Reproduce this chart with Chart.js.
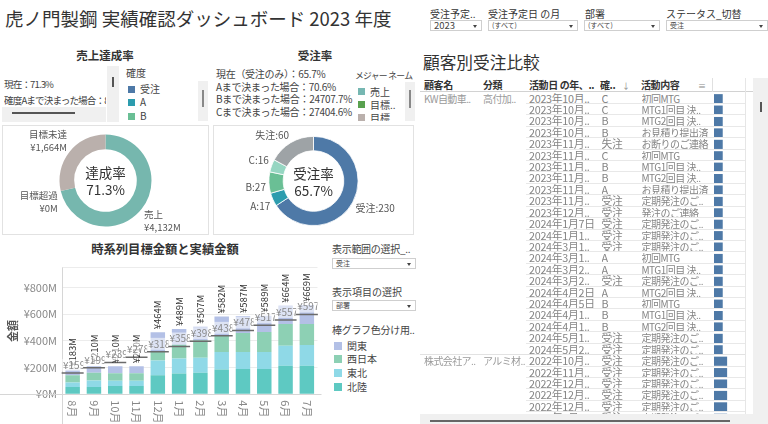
<!DOCTYPE html>
<html lang="ja">
<head>
<meta charset="utf-8">
<script src="https://cdn.jsdelivr.net/npm/chart.js@4.4.0/dist/chart.umd.min.js"></script>
<style>
  body { margin: 0; width: 768px; height: 424px; overflow: hidden; background: #fff; position: relative;
         font-family: "Noto Sans CJK JP", "Noto Sans", sans-serif; color: #333; }
  .a { position: absolute; white-space: nowrap; }
  .t10 { font-size: 10px; line-height: 14px; }
  .dd { position: absolute; height: 9px; border: 1px solid #cfcfcf; background: #fff; font-size: 7px; line-height: 9px;
        padding-left: 3px; color: #444; box-sizing: content-box; }
  .dd i { position: absolute; right: 4px; top: 3.5px; width: 0; height: 0; border-left: 2.5px solid transparent;
          border-right: 2.5px solid transparent; border-top: 3px solid #444; }
  .sq { position: absolute; width: 7px; height: 7px; }
  .track { position: absolute; background: #f0f0f0; }
  .thumb { position: absolute; background: #777; }
  .box { position: absolute; border: 1px solid #e2e2e2; box-sizing: border-box; }
  .hdr { position: absolute; font-size: 10px; font-weight: bold; line-height: 14px; top: 78px; color: #333;
         white-space: nowrap; overflow: hidden; letter-spacing: -0.4px; }
  .cell { position: absolute; font-size: 10.8px; line-height: 11.4px; color: #858585; white-space: nowrap;
          overflow: hidden; letter-spacing: -0.3px; }
</style>
</head>
<body>

<div class="a" style="left:5px;top:5px;font-size:18.5px;line-height:26px;">虎ノ門製鋼 実績確認ダッシュボード 2023 年度</div>

<!-- filters -->
<div class="a t10" style="left:430px;top:7px;">受注予定..</div>
<div class="a t10" style="left:488px;top:7px;">受注予定日 の月</div>
<div class="a t10" style="left:585px;top:7px;">部署</div>
<div class="a t10" style="left:666px;top:7px;">ステータス_切替</div>
<div class="dd" style="left:430px;top:20px;width:47px;font-size:9.5px;">2023<i></i></div>
<div class="dd" style="left:488px;top:20px;width:85px;">(すべて)<i></i></div>
<div class="dd" style="left:584px;top:20px;width:71px;">(すべて)<i></i></div>
<div class="dd" style="left:666px;top:20px;width:97px;">受注<i></i></div>

<!-- 売上達成率 -->
<div class="a" style="left:0;top:47px;width:210px;text-align:center;font-size:11.5px;font-weight:bold;line-height:16px;">売上達成率</div>
<div class="a" style="left:4px;top:77px;width:102px;overflow:hidden;font-size:9.6px;line-height:15.5px;color:#444;letter-spacing:-0.9px;">現在：71.3%<br>確度Aまで決まった場合：81.2%</div>
<div class="track" style="left:2px;top:107px;width:104px;height:15px;"></div>
<div class="thumb" style="left:12px;top:112px;width:63px;height:2px;background:#555;"></div>
<div class="track" style="left:107px;top:66px;width:12px;height:56px;"></div>
<div class="thumb" style="left:112px;top:77px;width:2px;height:10px;background:#555;"></div>
<div class="a t10" style="left:126px;top:66px;color:#444;">確度</div>
<div class="sq" style="left:128px;top:86px;background:#4e79a7;"></div>
<div class="a t10" style="left:140px;top:82px;color:#444;">受注</div>
<div class="sq" style="left:128px;top:99px;background:#2c9cae;"></div>
<div class="a t10" style="left:140px;top:95px;color:#444;">A</div>
<div class="sq" style="left:128px;top:113px;background:#6abf95;"></div>
<div class="a t10" style="left:140px;top:109px;color:#444;">B</div>
<div class="track" style="left:198px;top:81px;width:10px;height:40px;"></div>
<div class="thumb" style="left:202px;top:90px;width:2px;height:17px;background:#888;"></div>

<!-- 受注率 -->
<div class="a" style="left:210px;top:47px;width:210px;text-align:center;font-size:11.5px;font-weight:bold;line-height:16px;">受注率</div>
<div class="a" style="left:216px;top:68px;font-size:10px;line-height:12.6px;color:#444;letter-spacing:-0.3px;">現在（受注のみ）：65.7%<br>Aまで決まった場合：70.6%<br>Bまで決まった場合：24707.7%<br>Cまで決まった場合：27404.6%</div>
<div class="a" style="left:355px;top:69px;font-size:8.8px;line-height:14px;color:#444;letter-spacing:-0.7px;">メジャー ネーム</div>
<div class="a" style="left:356px;top:84px;width:48px;height:37px;overflow:hidden;">
  <div class="sq" style="left:2px;top:4px;background:#76b7b2;"></div>
  <div class="a t10" style="left:14px;top:0.5px;color:#444;">売上</div>
  <div class="sq" style="left:2px;top:17px;background:#59a14f;"></div>
  <div class="a t10" style="left:14px;top:14px;color:#444;">目標..</div>
  <div class="sq" style="left:2px;top:30px;background:#bab0ac;"></div>
  <div class="a t10" style="left:14px;top:27px;color:#444;">目標</div>
</div>
<div class="track" style="left:405px;top:82px;width:10px;height:39px;"></div>
<div class="thumb" style="left:409px;top:90px;width:2px;height:18px;background:#888;"></div>

<div class="box" style="left:2px;top:125px;width:207px;height:110px;"></div>
<div class="box" style="left:213px;top:125px;width:201px;height:110px;"></div>
<canvas id="salesDonut" class="a" style="left:3px;top:126px;" width="205" height="108"></canvas>
<canvas id="orderDonut" class="a" style="left:214px;top:126px;" width="199" height="108"></canvas>

<!-- 時系列 -->
<div class="a" style="left:0;top:241px;width:330px;text-align:center;font-size:12.3px;font-weight:bold;line-height:16px;">時系列目標金額と実績金額</div>
<canvas id="barChart" class="a" style="left:0;top:255px;" width="330" height="169"></canvas>
<div class="a" style="left:332px;top:242px;width:84px;overflow:hidden;font-size:10px;line-height:14px;color:#444;letter-spacing:-0.3px;">表示範囲の選択_..</div>
<div class="dd" style="left:332px;top:258px;width:79px;">受注<i></i></div>
<div class="a t10" style="left:332px;top:285px;color:#444;">表示項目の選択</div>
<div class="dd" style="left:332px;top:300px;width:79px;">部署<i></i></div>
<div class="a t10" style="left:332px;top:323px;color:#444;letter-spacing:-0.3px;">棒グラフ色分け用..</div>
<div class="sq" style="left:334px;top:342px;width:8px;height:8px;background:#b3c0e6;"></div>
<div class="a t10" style="left:347px;top:339px;color:#444;">関東</div>
<div class="sq" style="left:334px;top:355px;width:8px;height:8px;background:#8dd0b4;"></div>
<div class="a t10" style="left:347px;top:352px;color:#444;">西日本</div>
<div class="sq" style="left:334px;top:369px;width:8px;height:8px;background:#8fd9e7;"></div>
<div class="a t10" style="left:347px;top:366px;color:#444;">東北</div>
<div class="sq" style="left:334px;top:383px;width:8px;height:8px;background:#5ec9c2;"></div>
<div class="a t10" style="left:347px;top:380px;color:#444;">北陸</div>

<!-- 顧客別受注比較 -->
<div class="a" style="left:423px;top:50px;font-size:16.7px;line-height:24px;">顧客別受注比較</div>
<div class="hdr" style="left:424px;width:55px;">顧客名</div>
<div class="hdr" style="left:483px;width:42px;">分類</div>
<div class="hdr" style="left:529px;width:68px;">活動日 の年、..</div>
<div class="hdr" style="left:600px;width:20px;">確..</div>
<div class="a" style="left:622px;top:80px;font-size:8px;color:#888;">↓</div>
<div class="hdr" style="left:641px;width:50px;">活動内容</div>
<div class="a" style="left:698px;top:80px;font-size:8px;color:#888;">≡</div>
<div class="a" style="left:420px;top:91px;width:333px;height:1px;background:#d2d2d2;"></div>
<div class="a" style="left:712px;top:78px;width:1px;height:14px;background:#e0e0e0;"></div>
<div class="a" style="left:745px;top:78px;width:1px;height:336px;background:#e6e6e6;"></div>
<div id="tbl" class="a" style="left:420px;top:92px;width:333px;height:322px;overflow:hidden;">
  <canvas id="rowBars" class="a" style="left:294px;top:0.6px;" width="32" height="331"></canvas>
</div>
<div class="track" style="left:753px;top:78px;width:15px;height:336px;"></div>
<div class="thumb" style="left:760px;top:102px;width:2px;height:10px;background:#555;"></div>
<div class="track" style="left:420px;top:414px;width:348px;height:10px;"></div>
<div class="thumb" style="left:430px;top:420px;width:300px;height:2px;background:#666;"></div>

<script>
const salesLabels = ["売上", "目標超過", "目標未達"]
const salesValues = [4132, 0, 1664]
const salesColors = ["#76b7ae", "#59a14f", "#bab0ac"]

const orderLabels = ["受注", "A", "B", "C", "失注"]
const orderCounts = [230, 17, 27, 16, 60]
const orderColors = ["#4e79a7", "#2c9cae", "#6abf95", "#96d6c2", "#9ea3a6"]

const months = ["8月", "9月", "10月", "11月", "12月", "1月", "2月", "3月", "4月", "5月", "6月", "7月"]
const hokuriku = [55, 55, 62, 62, 143, 155, 162, 186, 190, 190, 214, 214]
const tohoku = [33, 48, 40, 40, 110, 114, 112, 131, 126, 126, 150, 155]
const nishinihon = [55, 58, 55, 55, 69, 102, 131, 126, 143, 150, 162, 157]
const kanto = [40, 49, 53, 53, 142, 118, 102, 139, 128, 123, 138, 143]
const targets = [159, 199, 239, 278, 318, 358, 398, 438, 478, 517, 557, 597]
const yTicks = [0, 200, 400, 600, 800]

const custNames = ["KW自動車..", "株式会社ア.."]
const custCats = ["高付加..", "アルミ材.."]
const rowCust = [0,0,0,0,0,0,0,0,0,0,0,0,0,0,0,0,0,0,0,0,0,0,0,1,1,1,1,1,1]
const rowDates = ["2023年10月..", "2023年10月..", "2023年10月..", "2023年10月..", "2023年11月..", "2023年11月..",
    "2023年11月..", "2023年11月..", "2023年11月..", "2023年11月..", "2023年12月..", "2024年1月7日",
    "2024年1月1..", "2024年3月1..", "2024年3月1..", "2024年3月2..", "2024年3月2..", "2024年4月2日",
    "2024年4月5日", "2024年4月1..", "2024年4月1..", "2024年5月1..", "2024年5月2..", "2022年10月..",
    "2022年11月..", "2022年12月..", "2022年12月..", "2022年12月..", "2023年1月.."]
const rowConf = ["C", "C", "B", "B", "失注", "C", "B", "B", "A", "受注", "受注", "受注", "受注", "受注", "A", "A",
    "受注", "A", "B", "B", "B", "受注", "受注", "受注", "受注", "受注", "受注", "受注", "受注"]
const rowActs = ["初回MTG", "MTG1回目 決..", "MTG2回目 決..", "お見積り提出済", "お断りのご連絡", "初回MTG",
    "MTG1回目 決..", "MTG2回目 決..", "お見積り提出済", "定期発注のご..", "発注のご連絡", "定期発注のご..",
    "定期発注のご..", "定期発注のご..", "初回MTG", "MTG1回目 決..", "定期発注のご..", "MTG2回目 決..",
    "初回MTG", "MTG1回目 決..", "MTG2回目 決..", "定期発注のご..", "定期発注のご..", "定期発注のご..",
    "定期発注のご..", "定期発注のご..", "定期発注のご..", "定期発注のご..", "定期発注のご.."]
const rowBarValues = [1.05, 1.05, 1.05, 1.05, 1.05, 1.05, 1.05, 1.05, 1.05, 1.05, 1.05, 1.05, 1.05, 1.05, 1.05,
    1.05, 1.05, 1.05, 1.05, 1.05, 1.05, 1.05, 1.05, 1.6, 1.6, 1.6, 1.6, 1.6, 1.6]

const FONT = '"Noto Sans CJK JP", "Noto Sans", sans-serif'
Chart.defaults.font.family = FONT
Chart.defaults.animation = false

const sum = a => a.reduce((s, v) => s + v, 0)

// labels round the ring plus the two lines in the hole
const donutText = {
    id: "donutText",
    afterDatasetsDraw(chart, args, opts) {
        const ctx = chart.ctx
        const arcs = chart.getDatasetMeta(0).data
        ctx.save()
        ctx.fillStyle = "#555"
        ctx.font = opts.size + "px " + FONT
        ctx.textBaseline = "middle"
        arcs.forEach((arc, i) => {
            const mid = (arc.startAngle + arc.endAngle) / 2
            const r = arc.outerRadius + 3
            const px = arc.x + Math.cos(mid) * r
            const py = arc.y + Math.sin(mid) * r
            const lines = opts.labels[i]
            const h = lines.length * opts.lineHeight
            const top = Math.sin(mid) > 0 ? py - h * 0.12 : py - h * 0.85
            ctx.textAlign = Math.cos(mid) < 0 ? "right" : "left"
            lines.forEach((t, j) => ctx.fillText(t, px, top + (j + 0.5) * opts.lineHeight))
        })
        const c = arcs[0]
        ctx.fillStyle = "#333"
        ctx.font = "13.5px " + FONT
        ctx.textAlign = "center"
        ctx.fillText(opts.center[0], c.x, c.y - 7.5)
        ctx.fillText(opts.center[1], c.x, c.y + 9.5)
        ctx.restore()
    }
}

const salesRate = (salesValues[0] / (salesValues[0] + salesValues[2]) * 100).toFixed(1)
new Chart(document.getElementById("salesDonut").getContext("2d"), {
    type: "doughnut",
    data: {
        labels: salesLabels,
        datasets: [{ data: salesValues, backgroundColor: salesColors, borderWidth: 0 }]
    },
    options: {
        responsive: false,
        cutout: "68%",
        layout: { padding: { top: 8.5, bottom: 7.5 } },
        plugins: {
            legend: { display: false },
            tooltip: { enabled: false },
            donutText: {
                center: ["達成率", salesRate + "%"],
                labels: salesLabels.map((l, i) => [l, "¥" + salesValues[i].toLocaleString("en-US") + "M"]),
                size: 9.5,
                lineHeight: 13
            }
        }
    },
    plugins: [donutText]
})

const orderRate = (orderCounts[0] / sum(orderCounts) * 100).toFixed(1)
new Chart(document.getElementById("orderDonut").getContext("2d"), {
    type: "doughnut",
    data: {
        labels: orderLabels,
        datasets: [{ data: orderCounts, backgroundColor: orderColors, borderWidth: 0.8, borderColor: "#fff" }]
    },
    options: {
        responsive: false,
        cutout: "68%",
        layout: { padding: { top: 10, bottom: 8 } },
        plugins: {
            legend: { display: false },
            tooltip: { enabled: false },
            donutText: {
                center: ["受注率", orderRate + "%"],
                labels: orderLabels.map((l, i) => [l + ":" + orderCounts[i]]),
                size: 10,
                lineHeight: 13
            }
        }
    },
    plugins: [donutText]
})

// axis lines, month labels, totals and target labels
const barExtras = {
    id: "barExtras",
    beforeDatasetsDraw(chart) {
        const { ctx, chartArea: a, scales: { y } } = chart
        const y0 = Math.round(y.getPixelForValue(0)) + 0.5
        ctx.save()
        ctx.strokeStyle = "#d6d6d6"
        ctx.lineWidth = 1
        ctx.beginPath()
        ctx.moveTo(0, y0)
        ctx.lineTo(a.right + 4, y0)
        ctx.moveTo(Math.round(a.left) + 0.5, a.top)
        ctx.lineTo(Math.round(a.left) + 0.5, chart.height)
        ctx.stroke()
        ctx.restore()
    },
    afterDatasetsDraw(chart) {
        const { ctx, chartArea: a, scales: { x, y } } = chart
        const w = x.getPixelForValue(1) - x.getPixelForValue(0)
        ctx.save()
        ctx.textBaseline = "middle"
        ctx.textAlign = "left"

        ctx.fillStyle = "#888"
        ctx.font = "11px " + FONT
        months.forEach((m, i) => {
            ctx.save()
            ctx.translate(x.getPixelForValue(i), a.bottom + 6)
            ctx.rotate(Math.PI / 2)
            ctx.fillText(m, 0, 0)
            ctx.restore()
        })

        ctx.fillStyle = "#333"
        ctx.font = "9.5px " + FONT
        months.forEach((m, i) => {
            const total = hokuriku[i] + tohoku[i] + nishinihon[i] + kanto[i]
            ctx.save()
            ctx.translate(x.getPixelForValue(i), y.getPixelForValue(total) - 3)
            ctx.rotate(-Math.PI / 2)
            ctx.fillText("¥" + total + "M", 0, 0)
            ctx.restore()
        })

        ctx.font = "10px " + FONT
        targets.forEach((t, i) => {
            const left = x.getPixelForValue(i) - w / 2
            const ty = y.getPixelForValue(t)
            ctx.save()
            ctx.beginPath()
            ctx.rect(left, ty - 15, w, 14)
            ctx.clip()
            ctx.fillStyle = "rgba(255,255,255,0.55)"
            ctx.fillRect(left, ty - 14, w, 12)
            ctx.fillStyle = "#8a8a8a"
            ctx.fillText("¥" + t + "M", left + 1, ty - 8)
            ctx.restore()
        })
        ctx.restore()
    }
}

new Chart(document.getElementById("barChart").getContext("2d"), {
    type: "bar",
    data: {
        labels: months,
        datasets: [
            {
                type: "line", label: "目標", data: targets, showLine: false, stack: "target", order: 0,
                pointStyle: "line", pointRadius: 11, pointHoverRadius: 11,
                pointBorderColor: "#6b6b6b", pointBorderWidth: 1.5
            },
            { label: "北陸", data: hokuriku, backgroundColor: "#5ec9c2", order: 1 },
            { label: "東北", data: tohoku, backgroundColor: "#8fd9e7", order: 1 },
            { label: "西日本", data: nishinihon, backgroundColor: "#8dd0b4", order: 1 },
            { label: "関東", data: kanto, backgroundColor: "#b3c0e6", order: 1 }
        ]
    },
    options: {
        responsive: false,
        layout: { padding: { top: 6.7, right: 4 } },
        datasets: { bar: { categoryPercentage: 1, barPercentage: 0.68 } },
        scales: {
            x: {
                stacked: true,
                grid: { display: false },
                border: { display: false },
                ticks: { display: false },
                afterFit: s => { s.height = 29.7 }
            },
            y: {
                stacked: true,
                min: 0,
                max: 950,
                afterBuildTicks: s => { s.ticks = yTicks.concat([950]).map(v => ({ value: v })) },
                ticks: {
                    padding: 5,
                    color: "#888",
                    font: { size: 11 },
                    callback: v => yTicks.includes(v) ? "¥" + v + "M" : ""
                },
                grid: { color: "#ececec", drawTicks: false },
                border: { display: false },
                title: { display: true, text: "金額", color: "#555", font: { size: 11, weight: "bold" }, padding: { top: 6, bottom: 0 } },
                afterFit: s => { s.width = 62 }
            }
        },
        plugins: {
            legend: { display: false },
            tooltip: { enabled: false }
        }
    },
    plugins: [barExtras]
})

// table text
const ROW_H = 331 / rowDates.length
const tbl = document.getElementById("tbl")
const put = (txt, left, top, width, color, extra) => {
    const d = document.createElement("div")
    d.className = "cell"
    d.style.left = left + "px"
    d.style.top = top + "px"
    d.style.width = width + "px"
    if (color) d.style.color = color
    if (extra) d.style.cssText += extra
    d.textContent = txt
    tbl.appendChild(d)
}
const line = (left, top, width, color) => {
    const d = document.createElement("div")
    d.className = "a"
    d.style.cssText = `left:${left}px;top:${top}px;width:${width}px;height:1px;background:${color}`
    tbl.appendChild(d)
}
rowDates.forEach((d, i) => {
    const top = 0.6 + i * ROW_H
    if (i === 0 || rowCust[i] !== rowCust[i - 1]) {
        if (i > 0) line(0, Math.round(top) - 1, 325, "#e2e2e2")
        put(custNames[rowCust[i]], 4, top, 56, "#9a9a9a", "font-size:10px;letter-spacing:-0.6px")
        put(custCats[rowCust[i]], 63, top, 44, "#9a9a9a", "font-size:10px;letter-spacing:-0.6px")
    }
    put(d, 109, top, 70)
    put(rowConf[i], 181.5, top, 38)
    put(rowActs[i], 221.5, top, 70, null, "font-size:10px;letter-spacing:-0.5px")
    line(106, Math.round(top + ROW_H) - 1, 219, "#e8e8e8")
})

new Chart(document.getElementById("rowBars").getContext("2d"), {
    type: "bar",
    data: {
        labels: rowDates.map((d, i) => String(i)),
        datasets: [{ data: rowBarValues, backgroundColor: "#4e79a7", barThickness: 8.5 }]
    },
    options: {
        responsive: false,
        indexAxis: "y",
        scales: {
            x: { display: false, min: 0, max: 4 },
            y: { display: false }
        },
        plugins: {
            legend: { display: false },
            tooltip: { enabled: false }
        }
    }
})
</script>
</body>
</html>
